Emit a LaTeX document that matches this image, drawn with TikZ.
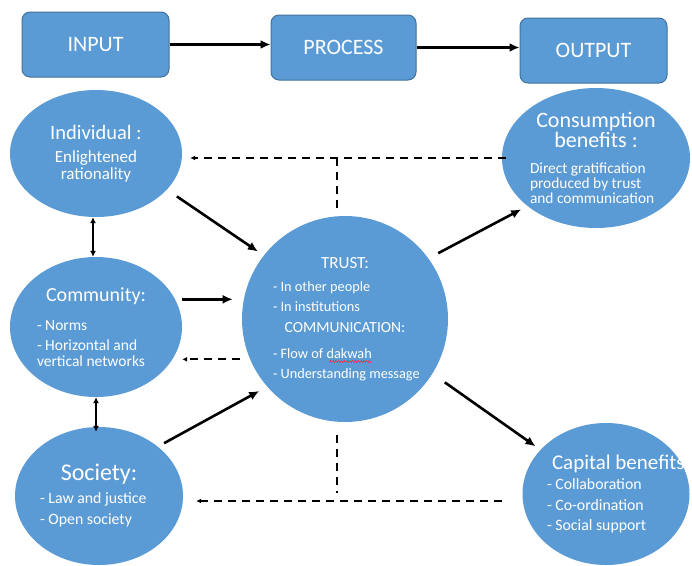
\documentclass[tikz,border=0pt]{standalone}
\usepackage{fontspec}
\setmainfont{Carlito}
\usetikzlibrary{positioning,arrows.meta,calc,shapes.geometric}
\definecolor{nodeblue}{RGB}{91,155,213}
\definecolor{edgeblue}{RGB}{65,113,156}
\definecolor{wavered}{RGB}{214,60,90}
\newcommand{\fs}[2]{\fontsize{#1}{#2}\selectfont\lineskiplimit=-50pt}
\newcommand{\hd}[2][20]{{\fontsize{#1}{#1}\selectfont #2}}
\newcommand{\itm}[2]{\makebox[#1pt][l]{#2}}
\newsavebox{\wavebox}
\newcommand{\waveunit}{\hbox{\rule[-3.6pt]{0.7pt}{0.6pt}\rule[-3.0pt]{0.7pt}{0.6pt}\rule[-3.6pt]{0.7pt}{0.6pt}\rule[-4.2pt]{0.7pt}{0.6pt}}}
\newcommand{\spellwave}[1]{\sbox\wavebox{#1}\rlap{\usebox\wavebox}\textcolor{wavered}{\leaders\waveunit\hskip\wd\wavebox}}

\begin{document}
\begin{tikzpicture}[x=1pt,y=-1pt,>=Latex]
\tikzset{
  box/.style={draw=edgeblue,line width=1pt,fill=nodeblue,rounded corners=8pt,minimum width=147pt,minimum height=65pt,text=white,font=\fontsize{22}{22}\selectfont},
  blob/.style={ellipse,fill=nodeblue,text=white,inner sep=0pt,align=center},
  arr/.style={-{Latex[length=10pt,width=9pt]},line width=2.6pt},
  dbl/.style={{Latex[length=6pt,width=6pt]}-{Latex[length=6pt,width=6pt]},line width=1.8pt},
  dsh/.style={line width=2pt,dash pattern=on 8pt off 6pt},
  darr/.style={dsh,-{Latex[length=5pt,width=5pt]}}
}
\useasboundingbox (0,0) rectangle (692,565);

% top row
\node[box] (inp) at (95.5,44.5) {INPUT};
\node[box,minimum width=145pt] (proc) at (343.5,47.5) {PROCESS};
\node[box] (outp) at (593.5,50.5) {OUTPUT};
\draw[arr] (inp.east) -- (inp.east -| proc.west);
\draw[arr] (proc.east) -- (proc.east -| outp.west);

% left column
\node[blob,minimum width=172pt,minimum height=127pt,font=\fs{17}{17}] (ind) at (96,153.5) {
  \hd[20.5]{Individual :}\\[6pt]
  Enlightened\\
  rationality
};
\node[blob,minimum width=172pt,minimum height=140pt,font=\fs{15.5}{18}] (com) at (96,327) {
  \hd{Community:}\\[11pt]
  \itm{118}{- Norms}\\[2pt]
  \itm{118}{- Horizontal and}\\[-2pt]
  \itm{118}{vertical networks}
};
\node[blob,minimum width=168pt,minimum height=138pt,font=\fs{15.8}{21}] (soc) at (99,496) {
  \hd[24]{Society:}\\[2pt]
  \itm{118}{- Law and justice}\\
  \itm{118}{- Open society}
};

% centre
\node[blob,circle,minimum size=206pt,font=\fs{14.3}{20}] (ctr) at (345,319) {
  \hd[17]{TRUST:}\\[2.5pt]
  \itm{144}{- In other people}\\
  \itm{144}{- In institutions}\\[1pt]
  \hd[15.5]{COMMUNICATION:}\\[6pt]
  \itm{144}{- Flow of \spellwave{dakwah}}\\
  \itm{144}{- Understanding message}
};

% right column
\node[blob,minimum width=188pt,minimum height=140pt,font=\fs{15.4}{15}] (con) at (596,158) {
  \hd[22]{Consumption}\\[5pt]
  \hd[22]{benefits :}\\[10.5pt]
  \itm{132}{Direct gratification}\\
  \itm{132}{produced by trust}\\
  \itm{132}{and communication}
};
\node[blob,minimum width=167pt,minimum height=142pt,font=\fs{15.8}{20.5}] (cap) at (606,494) {
  \itm{118}{\hspace{5pt}\hd[21]{Capital benefits}}\\
  \itm{118}{- Collaboration}\\
  \itm{118}{- Co-ordination}\\
  \itm{118}{- Social support}
};

% solid links
\draw[arr,shorten <=12pt,shorten >=7pt] (ind.-27) -- (ctr.142);
\draw[arr,shorten >=11pt] (com.east |- ctr.169) -- (ctr.169);
\draw[arr,shorten <=7pt,shorten >=9pt] (soc.40) -- (ctr.221);
\draw[arr,shorten <=11pt,shorten >=7pt] (ctr.36) -- (con.215);
\draw[arr,shorten <=15pt,shorten >=6pt] (ctr.-32) -- (cap.146);
\draw[dbl] ([xshift=-3pt]ind.south) -- ([xshift=-3pt]com.north);
\draw[dbl] (com.south) -- ([yshift=-5pt]com.south |- soc.north);

% feedback
\coordinate (tj) at (337,158);
\coordinate (bj) at (337,501);
\draw[darr,shorten <=-4pt,shorten >=8pt] (con.west |- tj) -- (ind.east |- tj);
\draw[dsh,shorten >=8pt] (tj) -- (tj |- ctr.north);
\draw[darr,shorten <=10pt] (ctr.203) -- (ctr.203 -| com.east);
\draw[dsh,shorten <=13pt,shorten >=8pt] (bj |- ctr.south) -- (bj);
\draw[darr,shorten <=20pt,shorten >=13pt] (cap.west |- bj) -- (soc.east |- bj);
\end{tikzpicture}
\end{document}
